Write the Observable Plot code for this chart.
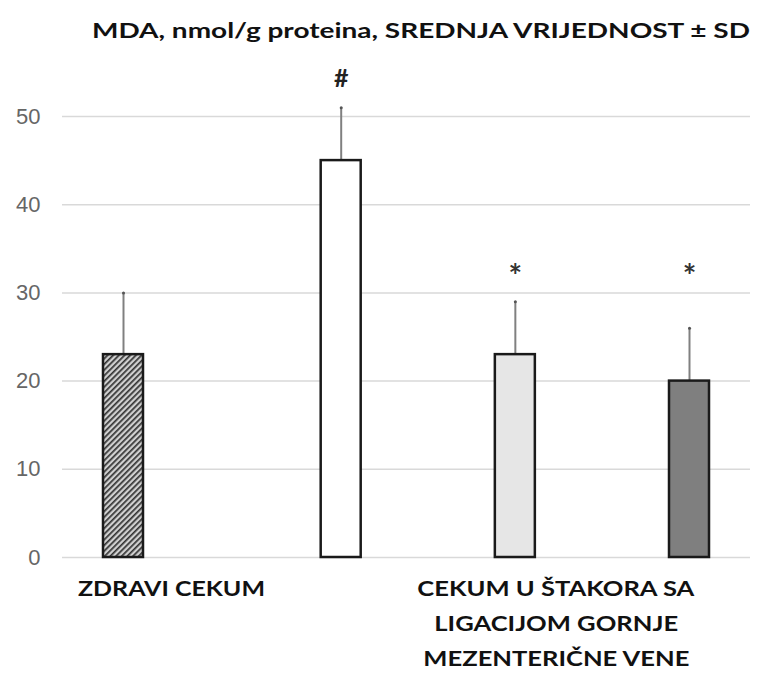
<!DOCTYPE html>
<html><head><meta charset="utf-8">
<script src="https://cdn.jsdelivr.net/npm/d3@7"></script>
<script src="https://cdn.jsdelivr.net/npm/@observablehq/plot@0.6"></script>
<style>
body{margin:0;background:#fff;width:774px;height:673px;position:relative;overflow:hidden;font-family:Lato,"Open Sans",sans-serif;color:#111}
#title{position:absolute;left:92px;top:17px;font-weight:bold;font-size:21px;white-space:nowrap;transform-origin:0 0}
#chart{position:absolute;left:0;top:60px}
.lab{position:absolute;font-weight:bold;font-size:21px;white-space:nowrap;line-height:20px;height:20px}
</style></head>
<body>
<div id="title">MDA, nmol/g proteina, SREDNJA VRIJEDNOST ± SD</div>
<div id="chart"></div>
<div id="labels"></div>
<script>
const groups = ["G1", "G2", "G3", "G4"];
const means = [23, 45, 23, 20];
const sds = [7, 6, 6, 6];
const signs = ["", "#", "*", "*"];
const yTicks = [0, 10, 20, 30, 40, 50];
const label1Lines = ["ZDRAVI CEKUM"];
const label2Lines = ["CEKUM U ŠTAKORA SA", "LIGACIJOM GORNJE", "MEZENTERIČNE VENE"];

// x scale slot layout (unequal gaps between bars, as in the original)
const slotOf = {G1: 0, G2: 5, G3: 9, G4: 13};
const xDomain = d3.range(14).map(i => groups.find(g => slotOf[g] === i) ?? `gap${i}`);

const barFill = {G1: "url(#hatch)", G2: "#ffffff", G3: "#e6e6e6", G4: "#7f7f7f"};
const data = groups.map((g, i) => ({group: g, mean: means[i], sd: sds[i], sign: signs[i]}));
const starLevel = d3.max(data.filter(d => d.sign === "*"), d => d.mean + d.sd);

const chart = Plot.plot({
  width: 774,
  height: 512,
  marginTop: 56,
  marginBottom: 15,
  marginLeft: 62,
  marginRight: 24,
  x: {domain: xDomain, range: [103, 709], paddingInner: 0.0813, paddingOuter: 0, round: false, axis: null},
  y: {domain: [0, 50], label: null, axis: null},
  style: {fontFamily: "'Liberation Sans', Arial, sans-serif", fontSize: "22px", color: "#666", background: "transparent"},
  marks: [
    Plot.gridY(yTicks, {stroke: "#d9d9d9", strokeOpacity: 1, strokeWidth: 1.5}),
    Plot.axisY({ticks: yTicks, tickSize: 0, tickPadding: 22, fill: "#666", fontSize: 22, label: null}),
    Plot.ruleX(data, {x: "group", y1: "mean", y2: d => d.mean + d.sd, stroke: "#808080", strokeWidth: 2}),
    Plot.dot(data, {x: "group", y: d => d.mean + d.sd, r: 1.5, fill: "#555", stroke: null}),
    Plot.barY(data, {x: "group", y: "mean", fill: d => barFill[d.group], stroke: "#1a1a1a", strokeWidth: 2.5}),
    Plot.text(data.filter(d => d.sign === "#"), {
      x: "group", y: d => d.mean + d.sd, text: "sign", dy: -29,
      fontSize: 25, fontWeight: "bold", fill: "#222", fontFamily: "Lato, 'Open Sans', sans-serif"
    }),
    Plot.text(data.filter(d => d.sign === "*"), {
      x: "group", y: () => starLevel, text: "sign", dy: -24,
      fontSize: 32, fontWeight: "bold", fill: "#333", fontFamily: "Lato, 'Open Sans', sans-serif"
    })
  ]
});

const svg = d3.select(chart);
const pat = svg.insert("defs", ":first-child").append("pattern")
  .attr("id", "hatch").attr("patternUnits", "userSpaceOnUse")
  .attr("width", 4).attr("height", 4).attr("patternTransform", "rotate(45)");
pat.append("rect").attr("width", 4).attr("height", 4).attr("fill", "#d0d0d0");
pat.append("rect").attr("width", 1.7).attr("height", 4).attr("fill", "#333");

document.getElementById("chart").appendChild(chart);

// stretch texts horizontally to the widths of the original's condensed-bold labels
function fitWidth(el, target) {
  const w = el.getBoundingClientRect().width;
  el.style.transform = `scaleX(${target / w})`;
}
fitWidth(document.getElementById("title"), 658);

const labels = document.getElementById("labels");
const lineTops = [578, 613, 648];
function addLine(text, top, left, center, scale) {
  const el = document.createElement("div");
  el.className = "lab";
  el.textContent = text;
  el.style.top = top + "px";
  labels.appendChild(el);
  const w = el.getBoundingClientRect().width;
  if (center != null) {
    el.style.left = (center - w / 2) + "px";
    el.style.transformOrigin = "50% 0";
  } else {
    el.style.left = left + "px";
    el.style.transformOrigin = "0 0";
  }
  el.style.transform = `scaleX(${scale})`;
  return w;
}
function measure(text) {
  const el = document.createElement("div");
  el.className = "lab"; el.textContent = text;
  labels.appendChild(el);
  const w = el.getBoundingClientRect().width;
  labels.removeChild(el);
  return w;
}
// label 1: fit "ZDRAVI CEKUM" to 187px from x=78
addLine(label1Lines[0], lineTops[0], 78, null, 187 / measure(label1Lines[0]));
// label 2: widest line fits 277px, all centered at x=556
const s2 = 277 / measure(label2Lines[0]);
label2Lines.forEach((t, i) => addLine(t, lineTops[i], null, 556, s2));
</script>
</body></html>
